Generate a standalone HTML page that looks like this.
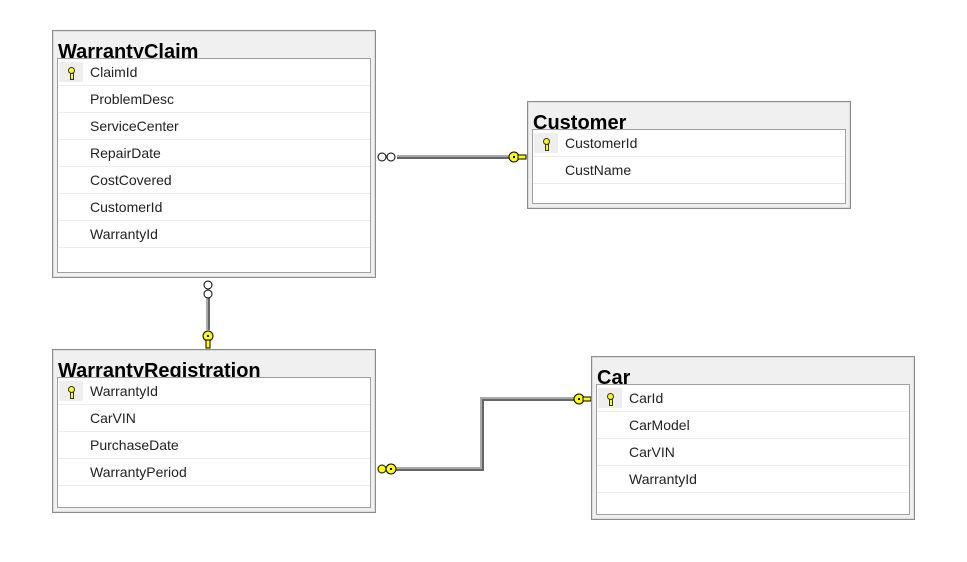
<!DOCTYPE html>
<html><head><meta charset="utf-8"><style>
body{margin:0;width:967px;height:562px;background:#fff;position:relative;overflow:hidden;font-family:"Liberation Sans",sans-serif;}
.t{position:absolute;border:1px solid #8c8c8c;background:#f0f0f0;box-shadow:inset 0 0 0 1px #dcdcdc;}
.tt{position:absolute;left:5px;top:9px;height:18px;overflow:hidden;font-weight:bold;font-size:20px;line-height:24px;color:#000;}
.in{position:absolute;left:4px;right:4px;top:27px;bottom:4px;background:#fff;border:1px solid #a0a0a0;}
.r{height:26px;border-bottom:1px solid #ececec;position:relative;font-size:14px;line-height:26px;color:#222;}
.r span{position:absolute;left:32px;}
.k{position:absolute;left:1px;top:3px;width:24px;height:20px;background:#eee;}
.k:after{content:"";position:absolute;left:9px;top:5px;width:5px;height:5px;border-radius:50%;background:#ff0;border:1px solid #333;}
.k:before{content:"";position:absolute;left:11px;top:11px;width:2px;height:5px;background:#ff0;border:1px solid #333;}
</style></head><body>
<svg width="967" height="562" style="position:absolute;left:0;top:0">
<g fill="none">
<path d="M397 156H510" stroke="#aaa" stroke-width="2"/><path d="M397 158H510" stroke="#666" stroke-width="2"/>
<path d="M207 298V330" stroke="#aaa" stroke-width="2"/><path d="M209 298V330" stroke="#666" stroke-width="2"/>
<path d="M395 468H481V398H575" stroke="#aaa" stroke-width="2"/><path d="M395 470H483V400H575" stroke="#666" stroke-width="2"/>
</g>
<g stroke="#000" stroke-width="1" fill="#fff">
<circle cx="382" cy="157" r="4"/><circle cx="391" cy="157" r="4"/>
<circle cx="208" cy="285" r="4"/><circle cx="208" cy="294" r="4"/>
</g>
<g stroke="#000" stroke-width="1" fill="#ff0">
<circle cx="514" cy="157" r="5"/><rect x="518" y="155" width="8" height="4"/>
<circle cx="208" cy="336" r="5"/><rect x="206" y="340" width="4" height="8"/>
<circle cx="579" cy="399" r="5"/><rect x="583" y="397" width="8" height="4"/>
<circle cx="382" cy="469" r="4"/><circle cx="391" cy="469" r="5"/>
</g>
<g fill="#000"><rect x="513" y="156" width="2" height="2"/><rect x="207" y="335" width="2" height="2"/><rect x="578" y="398" width="2" height="2"/><rect x="390" y="468" width="2" height="2"/></g>
</svg>

<div class="t" style="left:52px;top:30px;width:322px;height:246px"><div class="tt">WarrantyClaim</div><div class="in">
<div class="r"><div class="k"></div><span>ClaimId</span></div>
<div class="r"><span>ProblemDesc</span></div>
<div class="r"><span>ServiceCenter</span></div>
<div class="r"><span>RepairDate</span></div>
<div class="r"><span>CostCovered</span></div>
<div class="r"><span>CustomerId</span></div>
<div class="r"><span>WarrantyId</span></div>
</div></div>

<div class="t" style="left:527px;top:101px;width:322px;height:106px"><div class="tt">Customer</div><div class="in">
<div class="r"><div class="k"></div><span>CustomerId</span></div>
<div class="r"><span>CustName</span></div>
</div></div>

<div class="t" style="left:52px;top:349px;width:322px;height:162px"><div class="tt">WarrantyRegistration</div><div class="in">
<div class="r"><div class="k"></div><span>WarrantyId</span></div>
<div class="r"><span>CarVIN</span></div>
<div class="r"><span>PurchaseDate</span></div>
<div class="r"><span>WarrantyPeriod</span></div>
</div></div>

<div class="t" style="left:591px;top:356px;width:322px;height:162px"><div class="tt">Car</div><div class="in">
<div class="r"><div class="k"></div><span>CarId</span></div>
<div class="r"><span>CarModel</span></div>
<div class="r"><span>CarVIN</span></div>
<div class="r"><span>WarrantyId</span></div>
</div></div>
</body></html>
